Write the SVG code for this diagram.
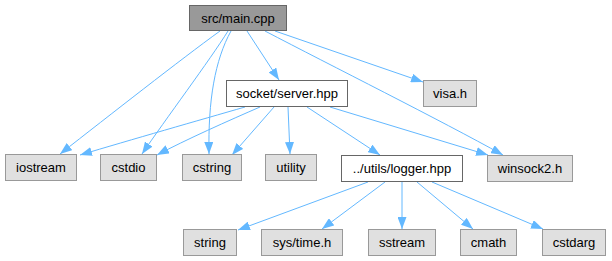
<svg xmlns="http://www.w3.org/2000/svg" width="612" height="261" viewBox="0 0 612 261">
  <defs>
    <marker id="arrow" viewBox="0 0 12 9" refX="12" refY="4.5" markerWidth="12" markerHeight="9" markerUnits="userSpaceOnUse" orient="auto">
      <path d="M0,0 L12,4.5 L0,9 z" fill="#63b8ff"/>
    </marker>
    <style>
      .edge { fill: none; stroke: #63b8ff; stroke-width: 1; marker-end: url(#arrow); }
      .node rect { stroke-width: 1; }
      .root rect { fill: #999999; stroke: #666666; }
      .file rect { fill: #ffffff; stroke: #666666; }
      .ext rect { fill: #e0e0e0; stroke: #999999; }
      text { font-family: "Liberation Sans", Arial, sans-serif; font-size: 13px; fill: #000000; text-anchor: middle; }
    </style>
  </defs>
  <rect width="612" height="261" fill="#ffffff"/>

  <g id="edges">
    <!-- src/main.cpp -->
    <path class="edge" d="M220,31 C180,60 110,115 60,154"/>
    <path class="edge" d="M228,31 C210,60 165,120 142,154"/>
    <path class="edge" d="M231,31 C215,60 208,100 209,154"/>
    <path class="edge" d="M247,31 L279,80"/>
    <path class="edge" d="M275,31 L423,82"/>
    <path class="edge" d="M265,31 C330,65 440,120 503,155"/>
    <!-- socket/server.hpp -->
    <path class="edge" d="M245,107 C200,120 130,140 80,155"/>
    <path class="edge" d="M260,107 C230,120 185,140 157,155"/>
    <path class="edge" d="M274,107 L232,155"/>
    <path class="edge" d="M288,107 L290,154"/>
    <path class="edge" d="M307,107 L380,155"/>
    <path class="edge" d="M330,107 L488,155"/>
    <!-- ../utils/logger.hpp -->
    <path class="edge" d="M368,182 L238,230"/>
    <path class="edge" d="M385,182 L322,229"/>
    <path class="edge" d="M402,182 L402,229"/>
    <path class="edge" d="M417,182 L473,229"/>
    <path class="edge" d="M432,182 L543,229"/>
  </g>

  <g id="main_cpp" class="node root">
    <rect x="189.5" y="5.5" width="97" height="25"/>
    <text x="238" y="22.5">src/main.cpp</text>
  </g>
  <g id="server_hpp" class="node file">
    <rect x="226.5" y="80.5" width="121" height="26"/>
    <text x="287" y="98">socket/server.hpp</text>
  </g>
  <g id="visa_h" class="node ext">
    <rect x="423.5" y="80.5" width="53" height="26"/>
    <text x="450" y="98">visa.h</text>
  </g>
  <g id="iostream" class="node ext">
    <rect x="5.5" y="154.5" width="71" height="26"/>
    <text x="41" y="172">iostream</text>
  </g>
  <g id="cstdio" class="node ext">
    <rect x="100.5" y="154.5" width="56" height="26"/>
    <text x="128.5" y="172">cstdio</text>
  </g>
  <g id="cstring" class="node ext">
    <rect x="182.5" y="154.5" width="59" height="26"/>
    <text x="212" y="172">cstring</text>
  </g>
  <g id="utility" class="node ext">
    <rect x="265.5" y="154.5" width="51" height="26"/>
    <text x="291" y="172">utility</text>
  </g>
  <g id="logger_hpp" class="node file">
    <rect x="341.5" y="155.5" width="121" height="26"/>
    <text x="402" y="173">../utils/logger.hpp</text>
  </g>
  <g id="winsock2_h" class="node ext">
    <rect x="487.5" y="155.5" width="85" height="26"/>
    <text x="530" y="173">winsock2.h</text>
  </g>
  <g id="string" class="node ext">
    <rect x="183.5" y="229.5" width="53" height="26"/>
    <text x="210" y="247">string</text>
  </g>
  <g id="sys_time_h" class="node ext">
    <rect x="261.5" y="229.5" width="81" height="26"/>
    <text x="302" y="247">sys/time.h</text>
  </g>
  <g id="sstream" class="node ext">
    <rect x="368.5" y="229.5" width="67" height="26"/>
    <text x="402" y="247">sstream</text>
  </g>
  <g id="cmath" class="node ext">
    <rect x="460.5" y="229.5" width="56" height="26"/>
    <text x="488.5" y="247">cmath</text>
  </g>
  <g id="cstdarg" class="node ext">
    <rect x="542.5" y="229.5" width="63" height="26"/>
    <text x="574" y="247">cstdarg</text>
  </g>
</svg>
